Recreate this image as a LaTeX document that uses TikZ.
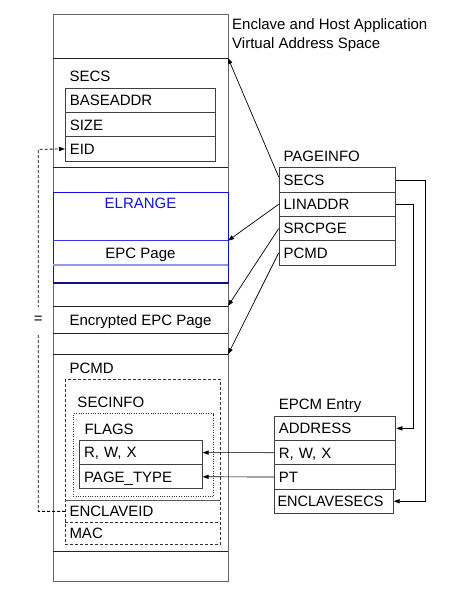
\documentclass[tikz,border=0pt]{standalone}
\usepackage{fontspec}
\setmainfont{Liberation Sans}
\usetikzlibrary{arrows.meta}
\definecolor{colgray}{HTML}{666666}
\definecolor{sepdark}{HTML}{222222}
\definecolor{elblue}{HTML}{1010E0}
\definecolor{elnavy}{HTML}{10108A}
\definecolor{elmid}{HTML}{3535F0}
\definecolor{ellight}{HTML}{9595F0}
\begin{document}
\begin{tikzpicture}[x=1pt,y=-1pt,
  basefont/.style={font=\fontsize{15}{19}\selectfont},
  txt/.style={basefont, text height=10.7pt, text depth=0pt},
  row/.style={txt, draw=black!75, line width=1pt, anchor=north west, inner xsep=4.3pt, inner ysep=0pt, minimum height=24.3pt, align=left},
  plainrow/.style={txt, anchor=north west, inner xsep=4.3pt, inner ysep=0pt, align=left},
  lbl/.style={txt, anchor=west, inner sep=0pt},
  sep/.style={draw=sepdark, line width=1pt},
  arr/.style={-{Triangle[length=6pt,width=4.2pt]}, line width=0.7pt},
  dasharr/.style={arr, dash pattern=on 3pt off 2pt},
]
\useasboundingbox (0,0) rectangle (462,590);
\fill[white] (0,0) rectangle (462,590);

% main column
\node[draw=colgray, line width=1pt, anchor=north west, minimum width=175pt, minimum height=566.7pt, inner sep=0pt] (col) at (53,14) {};
\draw[sep] (53,58) -- (228,58);
\draw[sep] (53,167) -- (228,167);
\draw[sep] (53,306) -- (228,306);
\draw[sep] (53,333.3) -- (228,333.3);
\draw[sep] (53,354.3) -- (228,354.3);
\draw[sep] (53,551.7) -- (228,551.7);

% title
\node[basefont, anchor=north west, inner sep=0pt, align=left] (title) at (232,18.4) {Enclave and Host Application\\Virtual Address Space};

% SECS
\node[lbl] (secslbl) at (69.3,76.3) {SECS};
\node[row, text width=141.4pt] (baseaddr) at (65,87.7) {BASEADDR};
\node[row, text width=141.4pt] (size) at (65,112) {SIZE};
\node[row, text width=141.4pt] (eid) at (65,136.3) {EID};

% ELRANGE
\node[draw=elblue, line width=1.3pt, anchor=north west, minimum width=175pt, minimum height=89.7pt, inner sep=0pt] (elr) at (53,192) {};
\draw[elnavy, line width=1.3pt] (elr.south west) -- (elr.south east);
\draw[elmid, line width=1pt] (53,240.7) -- (228,240.7);
\draw[ellight, line width=1.3pt] (53,265) -- (228,265);
\node[txt, text=elblue, inner sep=0pt] (elrlbl) at (140.5,203.3) {ELRANGE};
\node[txt, inner sep=0pt] (epcpage) at (140.5,252.8) {EPC Page};

% Encrypted
\node[txt, inner sep=0pt] (encpage) at (140.5,319.8) {Encrypted EPC Page};

% PCMD
\node[lbl] (pcmdlbl) at (69.3,367.7) {PCMD};
\node[draw=black!80, line width=0.8pt, dash pattern=on 3pt off 2pt, anchor=north west, minimum width=155.3pt, minimum height=164.7pt, inner sep=0pt] (pcmdbox) at (65,379.3) {};
\node[lbl] (secinfolbl) at (77.3,401.7) {SECINFO};
\node[draw=black!80, line width=0.8pt, dash pattern=on 0.8pt off 1.6pt, anchor=north west, minimum width=140.6pt, minimum height=82.7pt, inner sep=0pt] (secinfobox) at (72.7,413.3) {};
\node[lbl] (flagslbl) at (84.3,428.7) {FLAGS};
\node[row, text width=113.8pt, minimum height=24.2pt] (frwx) at (79.3,440) {R, W, X};
\node[row, text width=113.8pt, minimum height=24.2pt] (fpt) at (79.3,464.2) {PAGE\_TYPE};
\draw[draw=black!65, line width=0.8pt] (65,500) -- (220.3,500);
\draw[draw=black!80, line width=0.8pt, dash pattern=on 3pt off 2pt] (65,522.3) -- (220.3,522.3);
\node[plainrow, text width=146.7pt, minimum height=22.3pt] (encid) at (65,500) {ENCLAVEID};
\node[plainrow, text width=146.7pt, minimum height=21.7pt] (mac) at (65,522.3) {MAC};

% PAGEINFO
\node[lbl] (pilbl) at (283.3,156) {PAGEINFO};
\node[row, text width=108pt] (pisecs) at (278.7,167.3) {SECS};
\node[row, text width=108pt] (pilin) at (278.7,191.6) {LINADDR};
\node[row, text width=108pt] (pisrc) at (278.7,215.9) {SRCPGE};
\node[row, text width=108pt] (pipcmd) at (278.7,240.2) {PCMD};

% EPCM Entry
\node[lbl] (eplbl) at (278.7,404) {EPCM Entry};
\node[row, text width=112.7pt] (epaddr) at (274,415.7) {ADDRESS};
\node[row, text width=112.7pt] (eprwx) at (274,440) {R, W, X};
\node[row, text width=112.7pt] (eppt) at (274,464.3) {PT};
\node[row, text width=112.7pt, inner xsep=3pt] (epsecs) at (274,488.6) {\scalebox{0.965}[1]{ENCLAVESECS}};

% connector targets
\coordinate (t1) at (228,58);
\coordinate (t2) at (228,240.7);
\coordinate (t3) at (228,306);
\coordinate (t4) at (228,354.3);

\draw[arr] (pisecs.west) ++(0,-3) -- (t1);
\draw[arr] (pilin.west) -- (t2);
\draw[arr] (pisrc.west) -- (t3);
\draw[arr] (pipcmd.west) -- (t4);

\draw[arr] (pisecs.east) -- ++(29,0) |- (epsecs.east);
\draw[arr] (pilin.east) -- ++(17.4,0) |- (epaddr.east);

\draw[arr] (eprwx.west) -- (frwx.east);
\draw[arr] (eppt.west) -- (fpt.east);

\coordinate (dl) at (38.3,149.3);
\draw[dasharr, line width=0.8pt] (encid.west) -| (dl) -- (eid.west);
\node[txt, fill=white, inner xsep=2pt, minimum height=26pt, text height=8pt] (eqsign) at (38.3,319.5) {=};
\end{tikzpicture}
\end{document}
